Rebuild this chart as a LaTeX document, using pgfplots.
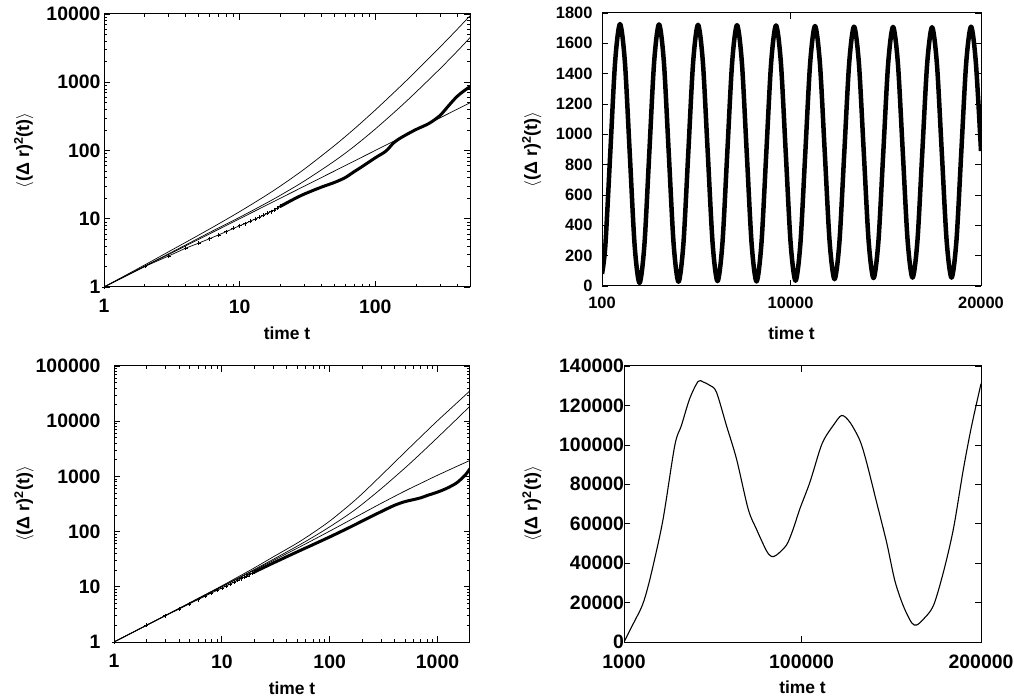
\documentclass[border=0pt]{standalone}
\usepackage{fontspec}
\setmainfont{Liberation Sans}
\usepackage{pgfplots}
\pgfplotsset{compat=1.18}
\begin{document}
\begin{tikzpicture}
\useasboundingbox (0,0) rectangle (1014bp,700bp);
\pgfplotsset{
  every axis/.append style={
    scale only axis,
    tick align=inside,
    major tick length=6bp,
    minor tick length=3bp,
    axis line style={line width=1bp},
    every tick/.style={black, line width=0.7bp},
    tick label style={font=\fontsize{19.5}{22}\selectfont\bfseries},
    xlabel style={font=\fontsize{17.5}{20}\selectfont\bfseries},
    ylabel style={font=\fontsize{18}{21}\selectfont\bfseries},
    xticklabel style={yshift=-9bp},
    /pgf/number format/assume math mode=true,
    /pgf/number format/fixed,
    /pgf/number format/1000 sep={},
    scaled ticks=false,
    xlabel={time t},
    ylabel={$\langle$(Δ r)\textsuperscript{2}(t)$\rangle$},
  },
  thinline/.style={black, line width=0.7bp},
  thickline/.style={black, line width=3bp, line join=round, line cap=round},
  markline/.style={black, line width=0.7bp, mark=+, mark size=2bp, mark options={line width=0.6bp}},
}
% ---------------- top left ----------------
\begin{axis}[at={(104bp,413bp)}, anchor=south west, width=366bp, height=273bp,
  xmode=log, ymode=log, xmin=1, xmax=500, ymin=1, ymax=10000,
  log ticks with fixed point,
  xlabel style={at={(axis description cs:0.5,-0.168)}, anchor=center},
  ylabel style={at={(axis description cs:-0.219,0.5)}, anchor=center},
]
\addplot[thinline, smooth] coordinates {(1,1) (2,2.11) (3,3.29) (5,5.77) (7,8.41) (10,12.7) (15,20.8) (20,30.2) (30,53.3) (50,117.8) (70,207) (100,391) (150,834) (200,1452) (300,3265) (400,5890) (500,9420)};
\addplot[thinline, smooth] coordinates {(1,1) (2,2.03) (3,3.07) (5,5.2) (7,7.35) (10,10.5) (15,16.1) (20,22.1) (30,35.7) (50,70) (70,115) (100,206) (150,420) (200,717) (300,1570) (400,2810) (500,4500)};
\addplot[thinline] coordinates {(1,1) (10,10) (100,100) (500,500)};
\addplot[markline] coordinates {(1,1) (2,2) (3,2.85) (4,3.7) (5,4.4) (6,5.1) (7,5.8) (8,6.5) (9,7.2) (10,7.9) (11,8.5) (12,9.2) (13,9.9) (14,10.5) (15,11.2) (16,12) (17,12.7) (18,13.4) (19,14.3) (20,15.2)};
\addplot[thickline, smooth] coordinates {(20,15.2) (25,19.3) (30,23) (40,29) (50,34) (60,40) (70,49) (80,58) (100,78) (120,98) (136,128) (150,148) (170,171) (200,203) (250,250) (300,325) (350,460) (400,615) (450,745) (500,860)};
\end{axis}
% ---------------- top right ----------------
\begin{axis}[at={(602bp,414bp)}, anchor=south west, width=379bp, height=273bp,
  xmin=100, xmax=20000, ymin=0, ymax=1800,
  xtick={100,10000,20000}, ytick={0,200,...,1800},
  tick label style={font=\fontsize{16.5}{20}\selectfont\bfseries},
  yticklabel style={xshift=-6bp},
  xticklabel style={yshift=1bp},
  xlabel style={at={(axis description cs:0.5,-0.172)}, anchor=center},
  ylabel style={at={(axis description cs:-0.185,0.5)}, anchor=center},
]
\addplot[black, line width=4.5bp, line join=round, smooth] coordinates {
(100,80) (277,269) (533,874) (789,1478) (1045,1727) (1301,1478) (1557,874) (1813,269) (2069,20)
(2325,269) (2581,872) (2837,1476) (3093,1725) (3349,1477) (3605,876) (3861,276) (4117,28)
(4373,276) (4629,875) (4885,1475) (5141,1722) (5397,1475) (5653,877) (5909,279) (6165,32)
(6421,278) (6677,876) (6933,1473) (7189,1720) (7445,1473) (7701,875) (7957,277) (8213,30)
(8469,276) (8725,874) (8981,1472) (9237,1718) (9493,1472) (9749,876) (10005,281) (10261,35)
(10517,280) (10773,875) (11029,1469) (11285,1714) (11541,1470) (11797,880) (12053,289) (12309,45)
(12565,288) (12821,878) (13077,1467) (13333,1710) (13589,1468) (13845,881) (14101,294) (14357,52)
(14613,294) (14869,880) (15125,1466) (15381,1708) (15637,1467) (15893,882) (16149,296) (16405,55)
(16661,296) (16917,881) (17173,1465) (17429,1706) (17685,1465) (17941,881) (18197,296) (18453,55)
(18709,297) (18965,883) (19221,1468) (19477,1710) (19733,1468) (20000,890)};
\end{axis}
% ---------------- bottom left ----------------
\begin{axis}[at={(114bp,58bp)}, anchor=south west, width=356bp, height=276bp,
  xmode=log, ymode=log, xmin=1, xmax=2000, ymin=1, ymax=100000,
  log ticks with fixed point,
  yticklabel style={xshift=-10bp},
  xlabel style={at={(axis description cs:0.5,-0.167)}, anchor=center},
  ylabel style={at={(axis description cs:-0.253,0.5)}, anchor=center},
]
\addplot[thinline, smooth] coordinates {(1,1) (2,2.01) (3,3.03) (5,5.1) (7,7.21) (10,10.4) (15,16.1) (20,22) (30,34.9) (50,62) (70,95) (100,155) (150,295) (200,485) (300,1040) (500,2761) (700,5224) (1000,10210) (1500,21180) (2000,35600)};
\addplot[thinline, smooth] coordinates {(1,1) (2,2.01) (3,3.02) (5,5.05) (7,7.1) (10,10.2) (15,15.3) (20,20.6) (30,31.5) (50,54.5) (70,79.5) (100,122) (150,206) (200,313) (300,598) (500,1426) (700,2612) (1000,5058) (1500,10840) (2000,18750)};
\addplot[thinline, smooth] coordinates {(1,1) (10,10) (50,50) (100,102) (200,212) (300,325) (500,545) (700,750) (1000,1050) (2000,1950)};
\addplot[markline] coordinates {(1,1) (2,2) (3,3) (4,3.95) (5,4.9) (6,5.85) (7,6.8) (8,7.7) (9,8.6) (10,9.5) (11,10.4) (12,11.3) (13,12.2) (14,13.1) (15,14) (16,14.9) (17,15.8) (18,16.6) (19,17.5) (20,18.5)};
\addplot[thickline, smooth] coordinates {(20,18.5) (30,27) (50,43) (70,58) (100,80) (150,117) (200,155) (300,230) (400,300) (500,350) (600,380) (700,410) (800,450) (1000,520) (1200,600) (1500,760) (1800,1050) (2000,1380)};
\end{axis}
% ---------------- bottom right ----------------
\begin{axis}[at={(624bp,58bp)}, anchor=south west, width=357bp, height=276bp,
  xmin=1000, xmax=200000, ymin=0, ymax=140000,
  xtick={1000,100000,200000}, ytick={0,20000,...,140000},
  yticklabel style={xshift=3.5bp},
  xlabel style={at={(axis description cs:0.5,-0.163)}, anchor=center},
  ylabel style={at={(axis description cs:-0.258,0.5)}, anchor=center},
]
\addplot[black, line width=1.1bp, smooth] coordinates {
(1000,0) (6000,9000) (10700,17500) (13500,25100) (17200,38600) (22800,62400) (29300,99700) (33000,109800)
(37600,123400) (42300,132200) (45100,131900) (48800,130200) (52500,126800) (58100,109800) (63700,92900)
(70200,67500) (74800,57300) (80400,46300) (83200,43400) (86000,44100) (91600,49200) (95300,57300)
(99000,67500) (104600,81000) (110200,97600) (112900,103400) (117600,109800) (122300,114900) (126900,111500)
(132500,102200) (136200,91200) (141800,70900) (147400,50500) (152000,31000) (156700,18300) (161300,9800)
(164100,8600) (167800,11500) (173400,18300) (179000,35300) (184600,57300) (190200,87800) (194800,109800) (200000,131000)};
\end{axis}
\end{tikzpicture}
\end{document}
